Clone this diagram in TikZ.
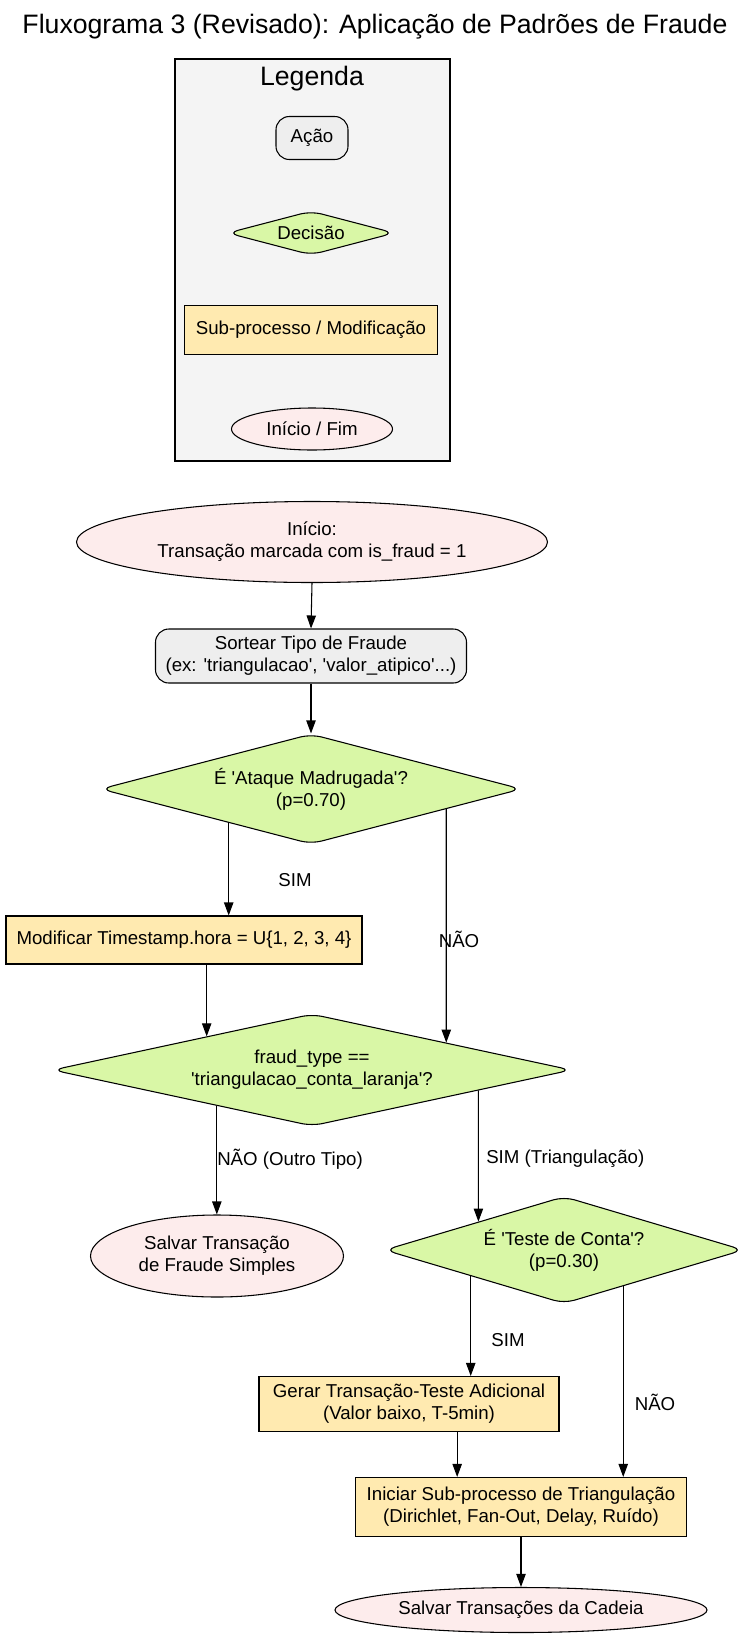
\documentclass[tikz,border=0pt]{standalone}
\usepackage{fontspec}
\setmainfont{Liberation Sans}[Ligatures=TeXOff]
\usetikzlibrary{shapes.geometric,arrows.meta,calc}

\definecolor{legbg}{HTML}{F4F4F4}
\definecolor{acaofill}{HTML}{EEEEEE}
\definecolor{decfill}{HTML}{D9F7A6}
\definecolor{subfill}{HTML}{FFEAB0}
\definecolor{fimfill}{HTML}{FDECEC}

\begin{document}
\begin{tikzpicture}[x=0.75pt, y=-0.75pt,
  every node/.style={font=\fontsize{14}{16.5}\selectfont, align=center},
  acao/.style={draw, rounded corners=10pt, fill=acaofill, line width=0.8pt, inner sep=0pt},
  decisao/.style={draw, diamond, aspect=4.5, rounded corners=8pt, fill=decfill, line width=0.8pt, inner sep=0pt},
  subproc/.style={draw, rectangle, fill=subfill, line width=0.8pt, inner sep=0pt},
  terminal/.style={draw, ellipse, fill=fimfill, line width=0.8pt, inner sep=0pt},
  rotulo/.style={inner sep=0pt},
  seta/.style={-{Triangle[length=9.75pt, width=7pt]}, line width=0.8pt}]

  \useasboundingbox (0,0) rectangle (751,1639);

  \node[font=\fontsize{20}{24}\selectfont] (titulo) at (375,27)
    {Fluxograma 3 (Revisado): Aplicação de Padrões de Fraude};

  % legenda
  \node[draw, fill=legbg, line width=0.8pt, inner sep=0pt,
    minimum width=206.25pt, minimum height=301.5pt] (leg) at (312.5,260) {};
  \node[font=\fontsize{20}{24}\selectfont] (legtit) at (312,79) {Legenda};
  \node[acao, minimum width=54pt, minimum height=32.25pt] (lacao) at (312,138) {Ação};
  \node[decisao, minimum width=125.25pt, minimum height=33pt] (ldec) at (311,233) {Decisão};
  \node[subproc, minimum width=189.75pt, minimum height=36.75pt] (lsub) at (311,330)
    {Sub-processo / Modificação};
  \node[terminal, minimum width=120.75pt, minimum height=31.5pt] (lfim) at (312,429)
    {Início / Fim};

  % fluxo
  \node[terminal, minimum width=353.25pt, minimum height=60.75pt] (inicio) at (312,542)
    {Início:\\Transação marcada com is\_fraud = 1};
  \node[acao, minimum width=233.25pt, minimum height=40.5pt] (sortear) at (311,656)
    {Sortear Tipo de Fraude\\(ex: 'triangulacao', 'valor\_atipico'...)};
  \node[decisao, minimum width=315.75pt, minimum height=82.5pt] (d1) at (311,789)
    {É 'Ataque Madrugada'?\\(p=0.70)};
  \node[subproc, minimum width=267pt, minimum height=36pt] (mod) at (184,940)
    {Modificar Timestamp.hora = U\{1, 2, 3, 4\}};
  \node[decisao, minimum width=389.25pt, minimum height=84pt] (d2) at (312,1070)
    {fraud\_type ==\\'triangulacao\_conta\_laranja'?};
  \node[terminal, minimum width=189.75pt, minimum height=61.5pt] (salv) at (217,1256)
    {Salvar Transação\\de Fraude Simples};
  \node[decisao, minimum width=269.25pt, minimum height=80.25pt] (d3) at (564,1250)
    {É 'Teste de Conta'?\\(p=0.30)};
  \node[subproc, minimum width=225pt, minimum height=41.25pt] (gerar) at (409,1404)
    {Gerar Transação-Teste Adicional\\(Valor baixo, T-5min)};
  \node[subproc, minimum width=248.25pt, minimum height=44.25pt] (inic) at (521,1507)
    {Iniciar Sub-processo de Triangulação\\(Dirichlet, Fan-Out, Delay, Ruído)};
  \node[terminal, minimum width=279pt, minimum height=33.75pt] (cadeia) at (521,1610)
    {Salvar Transações da Cadeia};

  % pontos nas bordas
  \coordinate (d1sim) at ($(d1.west)!0.61!(d1.south)$);
  \coordinate (d1nao) at ($(d1.south)!0.641!(d1.east)$);
  \coordinate (d1aux) at (d1nao |- d2.south);
  \coordinate (d2mod) at ($(d2.west)!0.595!(d2.north)$);
  \coordinate (d2nao) at ($(d2.west)!0.634!(d2.south)$);
  \coordinate (d2sim) at ($(d2.south)!0.64!(d2.east)$);
  \coordinate (d2aux) at (d2sim |- d3.south);
  \coordinate (d3sim) at ($(d3.west)!0.482!(d3.south)$);
  \coordinate (d3nao) at ($(d3.south)!0.329!(d3.east)$);
  \coordinate (gersai) at ($(gerar.south west)!0.66!(gerar.south east)$);

  \draw[seta] (inicio.south) -- (sortear.north);
  \draw[seta] (sortear.south) -- (d1.north);
  \draw[seta] (d1sim) -- (d1sim |- mod.north);
  \draw[seta] (d1nao) -- (intersection of d1nao--d1aux and d2.north--d2.east);
  \draw[seta] (d2mod |- mod.south) -- (d2mod);
  \draw[seta] (d2nao) -- (d2nao |- salv.north);
  \draw[seta] (d2sim) -- (intersection of d2sim--d2aux and d3.west--d3.north);
  \draw[seta] (d3sim) -- (d3sim |- gerar.north);
  \draw[seta] (d3nao) -- (d3nao |- inic.north);
  \draw[seta] (gersai) -- (gersai |- inic.north);
  \draw[seta] (inic.south) -- (cadeia.north);

  % rotulos
  \node[rotulo] (l1sim) at (295,880) {SIM};
  \node[rotulo] (l1nao) at (459,939) {NÃO};
  \node[rotulo, anchor=west] (l2nao) at (217,1159) {NÃO (Outro Tipo)};
  \node[rotulo, anchor=west] (l2sim) at (486,1159) {SIM (Triangulação)};
  \node[rotulo] (l3sim) at (508,1340) {SIM};
  \node[rotulo] (l3nao) at (655,1402) {NÃO};
\end{tikzpicture}
\end{document}
